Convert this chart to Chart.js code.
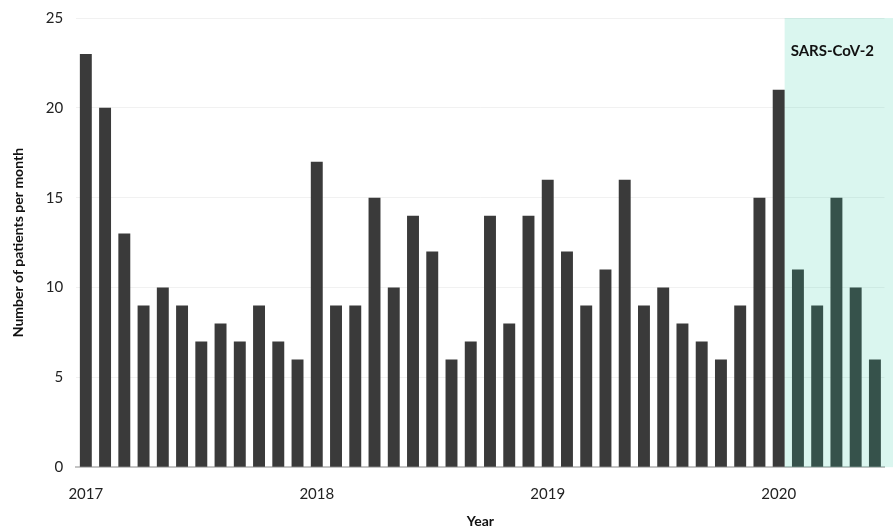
<!DOCTYPE html>
<html>
<head>
<meta charset="utf-8">
<script src="https://cdn.jsdelivr.net/npm/chart.js@4.4.0/dist/chart.umd.min.js"></script>
<style>
  html, body { margin: 0; padding: 0; background: #fff; overflow: hidden; }
  #wrap { width: 893px; height: 535px; margin-top: -4px; }
</style>
</head>
<body>
<div id="wrap"><canvas id="mycanvas"></canvas></div>
<script>
// monthly counts, Jan 2017 - Jun 2020
var years = [2017, 2018, 2019, 2020];
var months = [];
for (var y = 0; y < years.length; y++) {
    for (var m = 1; m <= 12; m++) {
        if (years[y] == 2020 && m > 6) break;
        months.push(years[y] + "-" + (m < 10 ? "0" + m : m));
    }
}
var patients = [
    23, 20, 13, 9, 10, 9, 7, 8, 7, 9, 7, 6,
    17, 9, 9, 15, 10, 14, 12, 6, 7, 14, 8, 14,
    16, 12, 9, 11, 16, 9, 10, 8, 7, 6, 9, 15,
    21, 11, 9, 15, 10, 6
];
var yTicks = [0, 5, 10, 15, 20, 25];
var covidLabel = "SARS-CoV-2";
var covidFrom = "2020-01"; // shading starts after this bar

var fontFam = "Lato, 'Open Sans', sans-serif";

// green band for the pandemic period, drawn over the bars
var covidBand = {
    id: 'covidBand',
    afterDatasetsDraw: function(chart) {
        var ctx = chart.ctx;
        var area = chart.chartArea;
        var bar = chart.getDatasetMeta(0).data[months.indexOf(covidFrom)];
        var x0 = bar.x + bar.width / 2;
        ctx.save();
        ctx.fillStyle = 'rgba(35,200,160,0.17)';
        ctx.fillRect(x0, area.top, chart.width - x0, area.bottom - area.top);
        ctx.fillStyle = '#111';
        ctx.font = "bold 15px " + fontFam;
        ctx.textBaseline = 'middle';
        ctx.fillText(covidLabel, x0 + 6, area.top + 33);
        ctx.restore();
    }
};

var ctx = document.getElementById("mycanvas");
var barGraph = new Chart(ctx, {
    type: 'bar',
    data: {
        labels: months,
        datasets: [{
            label: 'Number of patients per month',
            backgroundColor: '#3a3a3a',
            data: patients,
            categoryPercentage: 1.0,
            barPercentage: 0.62
        }]
    },
    options: {
        responsive: true,
        maintainAspectRatio: false,
        animation: false,
        layout: { padding: { top: 0, right: 7, left: 10, bottom: 1 } },
        plugins: {
            legend: { display: false },
            tooltip: { enabled: false }
        },
        scales: {
            x: {
                grid: { display: false, drawTicks: false },
                border: { color: '#c4c4c4', width: 2 },
                ticks: {
                    autoSkip: false,
                    maxRotation: 0,
                    padding: 18,
                    color: '#222',
                    font: { family: fontFam, size: 15 },
                    callback: function(v, i) {
                        var lab = months[i];
                        return lab.slice(5) == "01" ? lab.slice(0, 4) : "";
                    }
                },
                title: {
                    display: true,
                    text: 'Year',
                    color: '#111',
                    font: { family: fontFam, size: 14, weight: 'bold' },
                    padding: { top: -8, bottom: 0 }
                }
            },
            y: {
                min: 0,
                max: 25,
                afterBuildTicks: function(axis) {
                    axis.ticks = yTicks.map(function(v) { return { value: v }; });
                },
                grid: { color: '#f1f1f1', drawTicks: false },
                border: { display: false },
                ticks: {
                    padding: 13,
                    color: '#222',
                    font: { family: fontFam, size: 15 }
                },
                title: {
                    display: true,
                    text: 'Number of patients per month',
                    color: '#111',
                    font: { family: fontFam, size: 14, weight: 'bold' },
                    padding: { top: 0, bottom: 6 }
                }
            }
        }
    },
    plugins: [covidBand]
});
</script>
</body>
</html>
